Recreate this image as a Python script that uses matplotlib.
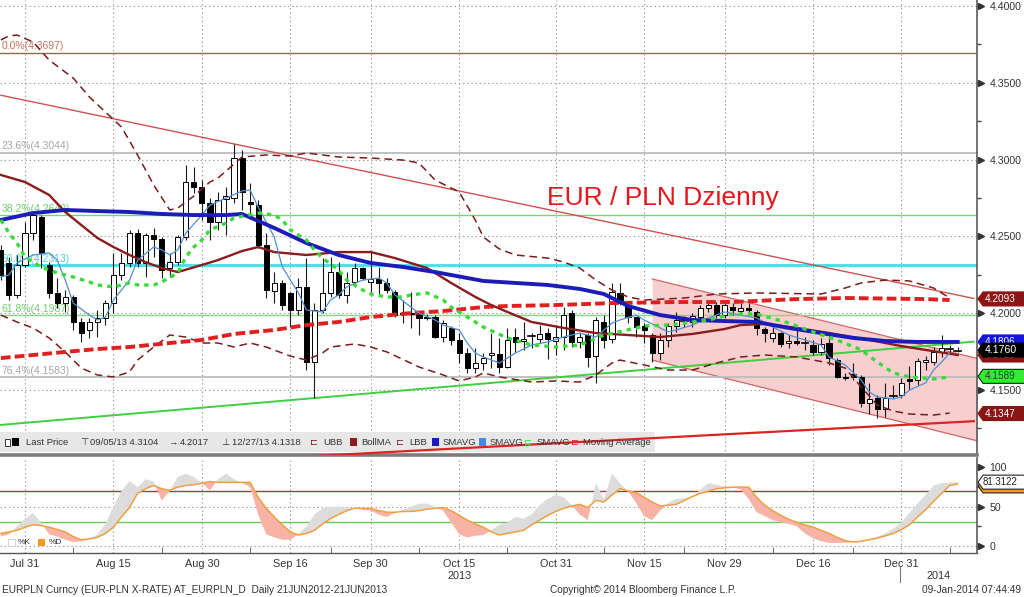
import numpy as np
import matplotlib
matplotlib.use("Agg")
import matplotlib.pyplot as plt
from matplotlib.patches import Rectangle, Polygon
from matplotlib.transforms import IdentityTransform, blended_transform_factory, offset_copy

plt.rcParams['font.family'] = ['Liberation Sans', 'DejaVu Sans']
plt.rcParams['lines.scale_dashes'] = False

# ---------------- data (trading-day index, Jul 31 2013 = 0) ----------------
day = np.arange(-3, 117)
open_ = [4.2412, 4.2327, 4.2119, 4.2314, 4.2522, 4.2626, 4.2314, 4.2132, 4.2066, 4.2106,
         4.1943, 4.1891, 4.1943, 4.1969, 4.2066, 4.2249, 4.2327, 4.2522, 4.2327, 4.2509,
         4.2483, 4.2294, 4.2333, 4.2496, 4.2854, 4.2822, 4.2718, 4.2594, 4.2744, 4.2750,
         4.3011, 4.2724, 4.2704, 4.2444, 4.2145, 4.2197, 4.2132, 4.2021, 4.2171, 4.1682,
         4.2021, 4.2132, 4.2268, 4.2119, 4.2203, 4.2294, 4.2203, 4.2223, 4.2197, 4.2138,
         4.1995, 4.1995, 4.1995, 4.1975, 4.1975, 4.1845, 4.1904, 4.1826, 4.1741, 4.1643,
         4.1676, 4.1728, 4.1735, 4.1650, 4.1845, 4.1819, 4.1852, 4.1832, 4.1871, 4.1819,
         4.1845, 4.2001, 4.1813, 4.1858, 4.1721, 4.1943, 4.1832, 4.2132, 4.2053, 4.1975,
         4.1917, 4.1858, 4.1741, 4.1826, 4.1917, 4.1949, 4.1943, 4.1975, 4.2034, 4.2053,
         4.1988, 4.2040, 4.2014, 4.2034, 4.2008, 4.1897, 4.1839, 4.1871, 4.1806, 4.1819,
         4.1806, 4.1793, 4.1748, 4.1806, 4.1695, 4.1585, 4.1604, 4.1585, 4.1415, 4.1448,
         4.1376, 4.1461, 4.1468, 4.1572, 4.1565, 4.1682, 4.1682, 4.1748, 4.1770, 4.1757]
high = [4.2444, 4.2366, 4.2379, 4.2594, 4.2659, 4.2639, 4.2333, 4.2229, 4.2151, 4.2119,
        4.1969, 4.1969, 4.2021, 4.2086, 4.2392, 4.2392, 4.2542, 4.2548, 4.2522, 4.2555,
        4.2496, 4.2392, 4.2509, 4.2965, 4.2952, 4.2867, 4.2750, 4.2789, 4.2822, 4.3104,
        4.3063, 4.2848, 4.2737, 4.2522, 4.2268, 4.2216, 4.2138, 4.2229, 4.2359, 4.2066,
        4.2359, 4.2366, 4.2333, 4.2268, 4.2327, 4.2301, 4.2398, 4.2301, 4.2229, 4.2151,
        4.2086, 4.2138, 4.2001, 4.1995, 4.1988, 4.1956, 4.1917, 4.1871, 4.1774, 4.1774,
        4.1741, 4.1871, 4.1839, 4.1904, 4.1904, 4.1943, 4.1871, 4.1923, 4.1904, 4.1923,
        4.2040, 4.2021, 4.1871, 4.1871, 4.1975, 4.1988, 4.2197, 4.2197, 4.2073, 4.1975,
        4.1936, 4.1871, 4.1871, 4.1936, 4.2008, 4.1982, 4.2001, 4.2053, 4.2073, 4.2073,
        4.2073, 4.2066, 4.2066, 4.2066, 4.2021, 4.1910, 4.1910, 4.1878, 4.1858, 4.1891,
        4.1845, 4.1826, 4.1839, 4.1871, 4.1708, 4.1611, 4.1676, 4.1598, 4.1546, 4.1468,
        4.1546, 4.1533, 4.1578, 4.1656, 4.1708, 4.1721, 4.1780, 4.1858, 4.1793, 4.1780]
low = [4.2216, 4.2086, 4.2099, 4.2301, 4.2477, 4.2294, 4.2099, 4.2034, 4.2008, 4.1891,
       4.1813, 4.1839, 4.1845, 4.1923, 4.2001, 4.2216, 4.2301, 4.2301, 4.2236, 4.2366,
       4.2229, 4.2236, 4.2314, 4.2477, 4.2783, 4.2607, 4.2477, 4.2542, 4.2509, 4.2718,
       4.2672, 4.2620, 4.2425, 4.2099, 4.2066, 4.2021, 4.1910, 4.1988, 4.1630, 4.1448,
       4.2001, 4.2106, 4.2099, 4.2066, 4.2171, 4.2216, 4.2138, 4.2119, 4.2132, 4.1975,
       4.1936, 4.1904, 4.1858, 4.1956, 4.1839, 4.1813, 4.1793, 4.1676, 4.1611, 4.1611,
       4.1630, 4.1643, 4.1611, 4.1643, 4.1748, 4.1761, 4.1774, 4.1806, 4.1702, 4.1728,
       4.1761, 4.1780, 4.1774, 4.1650, 4.1546, 4.1774, 4.1806, 4.2053, 4.1936, 4.1845,
       4.1806, 4.1682, 4.1695, 4.1780, 4.1878, 4.1910, 4.1910, 4.1943, 4.2008, 4.1969,
       4.1969, 4.1988, 4.2001, 4.2008, 4.1858, 4.1813, 4.1813, 4.1780, 4.1774, 4.1793,
       4.1761, 4.1728, 4.1728, 4.1663, 4.1578, 4.1565, 4.1565, 4.1389, 4.1344, 4.1318,
       4.1324, 4.1448, 4.1448, 4.1500, 4.1533, 4.1630, 4.1663, 4.1715, 4.1741, 4.1748]
close = [4.2249, 4.2119, 4.2314, 4.2522, 4.2639, 4.2392, 4.2132, 4.2066, 4.2106, 4.1943,
         4.1871, 4.1943, 4.1969, 4.2066, 4.2249, 4.2327, 4.2522, 4.2327, 4.2509, 4.2483,
         4.2281, 4.2333, 4.2496, 4.2854, 4.2822, 4.2718, 4.2594, 4.2737, 4.2763, 4.3011,
         4.2789, 4.2711, 4.2444, 4.2151, 4.2197, 4.2053, 4.2021, 4.2171, 4.1682, 4.2021,
         4.2132, 4.2268, 4.2119, 4.2197, 4.2294, 4.2229, 4.2223, 4.2197, 4.2151, 4.1988,
         4.2001, 4.2001, 4.1969, 4.1969, 4.1845, 4.1936, 4.1826, 4.1741, 4.1643, 4.1676,
         4.1708, 4.1741, 4.1650, 4.1826, 4.1813, 4.1832, 4.1848, 4.1865, 4.1832, 4.1845,
         4.1988, 4.1813, 4.1845, 4.1715, 4.1956, 4.1826, 4.2138, 4.2066, 4.1975, 4.1910,
         4.1891, 4.1741, 4.1826, 4.1917, 4.1956, 4.1953, 4.1982, 4.2034, 4.2053, 4.1988,
         4.2053, 4.2021, 4.2034, 4.2021, 4.1904, 4.1871, 4.1871, 4.1800, 4.1819, 4.1806,
         4.1803, 4.1748, 4.1800, 4.1708, 4.1585, 4.1578, 4.1585, 4.1415, 4.1442, 4.1376,
         4.1448, 4.1465, 4.1546, 4.1559, 4.1689, 4.1695, 4.1748, 4.1774, 4.1767, 4.1760]

# SMAVG (thick blue)
sma_blue_x = [-3, 1, 5, 9, 13, 17, 21, 25, 27, 31, 35, 39, 43, 47, 51, 57, 61, 65, 69, 72,
              75, 79, 83, 87, 91, 95, 99, 103, 107, 111, 116]
sma_blue = [4.2607, 4.2652, 4.2672, 4.2665, 4.2659, 4.2646, 4.2639, 4.2639, 4.2646, 4.2555,
            4.2457, 4.2379, 4.2327, 4.2301, 4.2268, 4.2210, 4.2197, 4.2184, 4.2158, 4.2125,
            4.2047, 4.1988, 4.1956, 4.1949, 4.1943, 4.1904, 4.1871, 4.1839, 4.1819, 4.1813, 4.1813]
# Bollinger middle
boll_x = [-3, 0, 3, 5, 7, 9, 11, 13, 15, 17, 19, 22, 24, 27, 29, 31, 35, 39, 43, 46, 50, 53,
          56, 58, 60, 63, 67, 71, 75, 79, 83, 87, 89, 92, 96, 100, 105, 109, 112, 116]
boll_ma = [4.2900, 4.2854, 4.2770, 4.2659, 4.2574, 4.2490, 4.2431, 4.2379, 4.2333, 4.2294,
           4.2268, 4.2314, 4.2346, 4.2405, 4.2431, 4.2398, 4.2379, 4.2398, 4.2398, 4.2359,
           4.2294, 4.2197, 4.2106, 4.2053, 4.2008, 4.1943, 4.1904, 4.1871, 4.1858, 4.1845,
           4.1865, 4.1897, 4.1923, 4.1930, 4.1904, 4.1871, 4.1826, 4.1786, 4.1761, 4.1728]
# upper Bollinger band
ubb_x = [-3, -2, -1, 1, 3, 6, 8, 10, 12, 14, 16, 18, 19, 21, 23, 24, 27, 30, 33, 35, 39, 43,
         47, 49, 51, 54, 56, 57, 59, 61, 65, 67, 69, 71, 73, 75, 77, 82, 86, 91, 99, 102, 104,
         107, 110, 113, 115]
ubb = [4.3779, 4.3805, 4.3811, 4.3766, 4.3648, 4.3531, 4.3408, 4.3310, 4.3212, 4.3030,
       4.2835, 4.2672, 4.2685, 4.2763, 4.2854, 4.2880, 4.3017, 4.3030, 4.3023, 4.3043,
       4.3017, 4.3010, 4.2997, 4.2978, 4.2867, 4.2789, 4.2607, 4.2496, 4.2418, 4.2379,
       4.2359, 4.2333, 4.2294, 4.2216, 4.2151, 4.2106, 4.2086, 4.2099, 4.2125, 4.2132,
       4.2125, 4.2164, 4.2197, 4.2216, 4.2210, 4.2164, 4.2099]
# lower Bollinger band
lbb_x = [-3, -1, 1, 3, 5, 7, 9, 11, 13, 14, 16, 18, 20, 22, 24, 26, 28, 30, 33, 35, 37, 38,
         41, 43, 45, 49, 52, 54, 56, 57, 59, 63, 66, 69, 71, 73, 74, 77, 80, 83, 86, 89, 92,
         96, 100, 102, 104, 106, 108, 110, 113, 115]
lbb = [4.1988, 4.1943, 4.1904, 4.1839, 4.1748, 4.1643, 4.1598, 4.1585, 4.1617, 4.1695,
       4.1780, 4.1858, 4.1845, 4.1806, 4.1806, 4.1780, 4.1806, 4.1780, 4.1721, 4.1695,
       4.1741, 4.1780, 4.1800, 4.1780, 4.1748, 4.1650, 4.1598, 4.1559, 4.1585, 4.1611,
       4.1585, 4.1552, 4.1559, 4.1552, 4.1598, 4.1676, 4.1695, 4.1663, 4.1630, 4.1630,
       4.1676, 4.1715, 4.1728, 4.1715, 4.1676, 4.1643, 4.1520, 4.1402, 4.1363, 4.1344,
       4.1337, 4.1350]
# short SMAVG (thin light blue)
sma_fast_x = [-3, -2, -1, 1, 3, 4, 5, 6, 8, 9, 10, 11, 13, 14, 16, 17, 18, 19, 20, 22, 23,
              25, 27, 28, 29, 31, 32, 34, 35, 37, 38, 39, 40, 42, 44, 45, 46, 48, 49, 51,
              52, 54, 55, 56, 57, 59, 61, 63, 65, 67, 69, 71, 73, 74, 76, 77, 79, 80, 81,
              83, 85, 87, 89, 91, 93, 95, 97, 99, 100, 102, 104, 105, 106, 108, 109, 110,
              112, 113, 114, 115]
sma_fast = [4.2236, 4.2249, 4.2327, 4.2379, 4.2392, 4.2346, 4.2216, 4.2066, 4.1988, 4.1956,
            4.1975, 4.2086, 4.2216, 4.2346, 4.2431, 4.2412, 4.2379, 4.2412, 4.2522, 4.2639,
            4.2704, 4.2750, 4.2796, 4.2802, 4.2691, 4.2496, 4.2301, 4.2132, 4.2021, 4.2008,
            4.2086, 4.2119, 4.2171, 4.2216, 4.2229, 4.2197, 4.2119, 4.2040, 4.2001, 4.1956,
            4.1923, 4.1891, 4.1806, 4.1741, 4.1715, 4.1676, 4.1741, 4.1793, 4.1813, 4.1845,
            4.1871, 4.1845, 4.1936, 4.1956, 4.1988, 4.1956, 4.1904, 4.1878, 4.1891, 4.1923,
            4.1969, 4.2008, 4.1988, 4.1969, 4.1910, 4.1858, 4.1826, 4.1793, 4.1715, 4.1663,
            4.1565, 4.1487, 4.1455, 4.1442, 4.1455, 4.1500, 4.1546, 4.1630, 4.1682, 4.1741]
# SMAVG (green dashed)
sma_green_x = [-3, -2, -1, 0, 1, 2, 4, 6, 8, 9, 11, 13, 14, 16, 17, 19, 20, 21, 22, 23, 25,
               26, 29, 31, 32, 33, 35, 36, 37, 39, 40, 42, 43, 45, 47, 48, 50, 52, 53, 55,
               57, 60, 63, 66, 69, 72, 76, 77, 80, 82, 85, 88, 91, 95, 98, 101, 104, 106,
               108, 110, 113, 115]
sma_green = [4.2607, 4.2522, 4.2457, 4.2366, 4.2333, 4.2301, 4.2262, 4.2236, 4.2203, 4.2184,
             4.2171, 4.2197, 4.2184, 4.2184, 4.2203, 4.2262, 4.2366, 4.2431, 4.2477, 4.2542,
             4.2587, 4.2620, 4.2652, 4.2639, 4.2607, 4.2542, 4.2477, 4.2412, 4.2359, 4.2281,
             4.2216, 4.2151, 4.2125, 4.2106, 4.2106, 4.2119, 4.2132, 4.2086, 4.2040, 4.1975,
             4.1910, 4.1839, 4.1793, 4.1780, 4.1793, 4.1858, 4.1904, 4.1917, 4.1923, 4.1936,
             4.1956, 4.1995, 4.1995, 4.1936, 4.1878, 4.1826, 4.1761, 4.1682, 4.1611, 4.1585,
             4.1572, 4.1585]
# Moving Average (thick red dashed)
ma_red_x = [-3, 1, 5, 9, 13, 18, 22, 26, 31, 35, 39, 43, 48, 52, 57, 60, 66, 73, 81, 88, 96,
            102, 112, 115]
ma_red = [4.1708, 4.1728, 4.1748, 4.1767, 4.1780, 4.1806, 4.1826, 4.1865, 4.1891, 4.1923,
          4.1943, 4.1975, 4.2001, 4.2014, 4.2040, 4.2047, 4.2053, 4.2066, 4.2073, 4.2073,
          4.2092, 4.2099, 4.2092, 4.2086]

# Fibonacci retracement levels
fib_pct = ['0.0%', '23.6%', '38.2%', '50.0%', '61.8%', '76.4%']
fib_val = [4.3697, 4.3044, 4.2640, 4.2313, 4.1987, 4.1583]

# trend lines (two end points each)
trend_down_x, trend_down_y = [-3, 118], [4.3419, 4.2096]
trend_up_x, trend_up_y = [-3, 118], [4.1273, 4.1815]
trend_low_x, trend_low_y = [30, 118], [4.1054, 4.1297]
chan_x = [78, 119]
chan_top = [4.2223, 4.1698]
chan_bot = [4.1695, 4.1162]

# stochastics
stoch_k = [12, 15, 25, 35, 42, 30, 15, 12, 8, 5, 6, 9, 15, 28, 50, 70, 83, 75, 85, 82,
           58, 70, 88, 92, 88, 80, 71, 85, 92, 85, 80, 75, 40, 15, 11, 8, 8, 15, 25, 40,
           48, 50, 50, 49, 48, 46, 45, 40, 37, 42, 46, 50, 54, 54, 50, 45, 30, 15, 11, 13,
           14, 20, 27, 30, 37, 35, 40, 52, 60, 65, 62, 52, 40, 33, 80, 60, 92, 80, 70, 55,
           38, 33, 45, 55, 60, 61, 62, 72, 80, 78, 76, 75, 72, 60, 43, 38, 33, 30, 28, 25,
           16, 10, 6, 4, 4, 4, 5, 7, 9, 12, 16, 22, 30, 42, 54, 65, 77, 80, 81, 81.3122]
stoch_d = [16, 18, 20, 24, 27, 26, 24, 21, 18, 12, 8, 9, 11, 16, 24, 37, 49, 67, 73, 77,
           73, 71, 75, 77, 78, 80, 82, 81, 81, 81, 81, 81, 62, 48, 37, 27, 18, 14, 16, 20,
           28, 35, 40, 45, 48, 48, 48, 45, 43, 43, 44, 44, 45, 47, 48, 49, 45, 39, 33, 28,
           24, 18, 14, 16, 18, 20, 27, 33, 39, 44, 48, 51, 53, 49, 58, 56, 65, 73, 70, 68,
           62, 56, 51, 52, 53, 58, 63, 67, 70, 73, 74, 75, 75, 75, 62, 52, 45, 39, 34, 30,
           27, 24, 20, 16, 11, 7, 5, 6, 8, 10, 13, 16, 21, 27, 37, 46, 57, 67, 77, 79]

tick_days = [0, 11, 22, 33, 43, 54, 66, 77, 87, 98, 109]
tick_labels = ['Jul 31', 'Aug 15', 'Aug 30', 'Sep 16', 'Sep 30', 'Oct 15', 'Oct 31',
               'Nov 15', 'Nov 29', 'Dec 16', 'Dec 31']
minor_days = [6, 17, 28, 38, 49, 60, 72, 82, 93, 103, 115]
price_ticks = [4.15, 4.20, 4.25, 4.30, 4.35, 4.40]

# ---------------- figure ----------------
W, H = 1024, 597
fig = plt.figure(figsize=(W / 100, H / 100), dpi=100)
fig.patch.set_facecolor('white')


def fx(px):
    return px / W


def fy(py):
    return 1 - py / H


ax = fig.add_axes([0, fy(455), fx(977), 455 / H])
ax2 = fig.add_axes([0, fy(553), fx(977), (553 - 457.5) / H])
XMIN, XMAX = -3.11, 118.4
ax.set_xlim(XMIN, XMAX)
ax.set_ylim(4.1077, 4.4039)
ax2.set_xlim(XMIN, XMAX)
ax2.set_ylim(-8.9, 112.7)

grid_kw = dict(color='#9a9a9a', lw=0.8, linestyle=(0, (1, 2)), zorder=0.5)
for d in tick_days:
    ax.axvline(d, **grid_kw)
    ax2.axvline(d, **grid_kw)
for p in price_ticks:
    ax.axhline(p, **grid_kw)
for v in [0, 50]:
    ax2.axhline(v, **grid_kw)

# pink channel
ax.fill_between(chan_x, chan_bot, chan_top, color='#f8cfcf', lw=0, zorder=1)
ax.plot(chan_x, chan_top, color='#d46464', lw=0.9, zorder=1.2)
ax.plot(chan_x, chan_bot, color='#d46464', lw=0.9, zorder=1.2)

# fibonacci levels
fib_col = ['#d44848', '#bcbcbc', '#72d872', '#3ee0e6', '#80dc80', '#bcbcbc']
fib_txt = ['#c8705c', '#a6a6a6', '#6cd06c', '#48d4d8', '#6cd06c', '#a6a6a6']
fib_lw = [1.0, 1.3, 1.0, 2.0, 1.0, 1.3]
for pct, val, c, tc, lw in zip(fib_pct, fib_val, fib_col, fib_txt, fib_lw):
    ax.axhline(val, color=c, lw=lw, zorder=1.3)
    ax.text(XMIN + 0.2, val + 0.0009, f'{pct}({val:.4f})', color=tc, fontsize=7.5,
            va='bottom', ha='left', zorder=1.4)

# trend lines
ax.plot(trend_down_x, trend_down_y, color='#d05050', lw=1.0, zorder=1.5)
ax.plot(trend_up_x, trend_up_y, color='#3fcf3f', lw=1.4, zorder=1.5)

# candles
for d, o, h, l, c in zip(day, open_, high, low, close):
    ax.plot([d, d], [l, h], color='#1a1a1a', lw=0.8, zorder=3, solid_capstyle='butt')
    lo, hi = min(o, c), max(o, c)
    if hi - lo < 0.0004:
        ax.plot([d - 0.4, d + 0.4], [o, o], color='black', lw=1.2, zorder=4)
    else:
        ax.add_patch(Rectangle((d - 0.32, lo), 0.64, hi - lo,
                               facecolor='white' if c >= o else 'black',
                               edgecolor='black', lw=0.7, zorder=4))

# indicators
ax.plot(ubb_x, ubb, color='#7a1c1c', lw=1.1, dashes=(5.5, 3.5), zorder=5)
ax.plot(lbb_x, lbb, color='#7a1c1c', lw=1.1, dashes=(5.5, 3.5), zorder=5)
ax.plot(ma_red_x, ma_red, color='#e02020', lw=2.8, dashes=(7, 3), zorder=5)
ax.plot(boll_x, boll_ma, color='#8b1c1c', lw=1.7, zorder=5.5)
ax.plot(sma_fast_x, sma_fast, color='#4f8fd0', lw=0.9, zorder=5.6)
ax.plot(sma_blue_x, sma_blue, color='#1c1cb8', lw=2.8, zorder=6)
ax.plot(sma_green_x, sma_green, color='#3ada3a', lw=2.4, dashes=(3.2, 3.6), zorder=6.2)

# legend bar (inside main axes)
ax.add_patch(Rectangle((0, fy(452)), fx(655), 20 / H, transform=fig.transFigure,
                       facecolor='#e7e7e7', edgecolor='none', zorder=6.5))
ax.plot(trend_low_x, trend_low_y, color='#dd2424', lw=1.6, zorder=7)

leg_y = fy(442.5)
tf = fig.transFigure
ax.add_patch(Rectangle((fx(5), fy(446)), fx(5), 7 / H, transform=tf, facecolor='white',
                       edgecolor='#333333', lw=0.7, zorder=8))
ax.add_patch(Rectangle((fx(12), fy(446)), fx(7), 8 / H, transform=tf, facecolor='black',
                       edgecolor='none', zorder=8))
legend_items = [
    (26, 'Last Price', '#333333'), (80, '\u22a4', '#333333'), (90, '09/05/13 4.3104', '#333333'),
    (169, '\u2192', '#333333'), (180, '4.2017', '#333333'), (221, '\u22a5', '#333333'),
    (232, '12/27/13 4.1318', '#333333'), (310, '\u228f', '#7a1c1c'), (323, 'UBB', '#333333'),
    (361, 'BollMA', '#333333'), (396, '\u228f', '#7a1c1c'), (409, 'LBB', '#333333'),
    (443, 'SMAVG', '#333333'), (490, 'SMAVG', '#333333'), (524, '\u228f', '#3ada3a'),
    (537, 'SMAVG', '#333333'), (571, '\u228f', '#e02020'), (583, 'Moving Average', '#333333')]
for px, txt, col in legend_items:
    ax.text(fx(px), leg_y, txt, transform=tf, fontsize=6.8, color=col, va='center',
            ha='left', zorder=8)
for px, col in [(350, '#8b1c1c'), (432, '#1c1cb8'), (479, '#3c8ee8')]:
    ax.add_patch(Rectangle((fx(px), fy(446)), fx(7), 8 / H, transform=tf, facecolor=col,
                           edgecolor='none', zorder=8))

# title
fig.text(fx(547), fy(198), 'EUR / PLN Dzienny', color='#e8141c', fontsize=19,
         va='center', ha='left')

# stochastic panel
k = np.array(stoch_k, dtype=float)
dd = np.array(stoch_d, dtype=float)
ax2.axhline(70, color='#a8383a', lw=1.0, zorder=1.5)
ax2.axhline(30, color='#66cc55', lw=1.0, zorder=1.5)
ax2.fill_between(day, k, dd, where=k >= dd, interpolate=True, color='#dcdcdc', lw=0, zorder=2)
ax2.fill_between(day, k, dd, where=k < dd, interpolate=True, color='#f7b3a5', lw=0, zorder=2)
ax2.plot(day, dd, color='#eea040', lw=1.1, zorder=3)
ax2.add_patch(Rectangle((fx(8), fy(546)), fx(7), 7 / H, transform=tf, facecolor='white',
                        edgecolor='#cccccc', lw=0.6, zorder=4))
ax2.text(fx(18), fy(542.5), '%K', transform=tf, fontsize=6, color='#333333', va='center')
ax2.add_patch(Rectangle((fx(38), fy(546)), fx(7), 7 / H, transform=tf, facecolor='#f39a1e',
                        edgecolor='none', zorder=4))
ax2.text(fx(49), fy(542.5), '%D', transform=tf, fontsize=6, color='#333333', va='center')

# axes styling
for a in (ax, ax2):
    a.yaxis.tick_right()
    for s in ('left', 'top'):
        a.spines[s].set_visible(False)
    a.spines['right'].set_color('#5a5a5a')
    a.spines['right'].set_linewidth(1.2)
    a.set_facecolor('white')
ax.spines['bottom'].set_color('#7c7c7c')
ax.spines['bottom'].set_linewidth(2.6)
ax2.spines['bottom'].set_color('#555555')
ax2.spines['bottom'].set_linewidth(1.0)

ax.set_xticks([])
ax.set_yticks(price_ticks)
ax.set_yticklabels([f'{p:.4f}' for p in price_ticks])
ax.set_yticks([4.125, 4.175, 4.225, 4.275, 4.325, 4.375], minor=True)
ax2.set_yticks([0, 50, 100])
ax2.set_yticklabels(['0', '50', '100'])
ax2.set_yticks([25, 75], minor=True)
for a in (ax, ax2):
    a.tick_params(axis='y', which='major', direction='out', length=3, width=1,
                  color='#444444', pad=6, labelsize=7.6, labelcolor='#333333')
    a.tick_params(axis='y', which='minor', direction='out', length=3, width=1,
                  color='#444444')
ax.plot([1.0] * len(price_ticks), price_ticks, ls='none', marker='>', ms=4.5,
        color='#333333', clip_on=False, zorder=10,
        transform=offset_copy(blended_transform_factory(ax.transAxes, ax.transData),
                              fig=fig, x=4, y=0, units='dots'))
ax2.plot([1.0] * 3, [0, 50, 100], ls='none', marker='>', ms=4.5, color='#333333',
         clip_on=False, zorder=10,
         transform=offset_copy(blended_transform_factory(ax2.transAxes, ax2.transData),
                               fig=fig, x=4, y=0, units='dots'))

ax2.set_xticks(tick_days)
ax2.set_xticklabels(tick_labels)
ax2.set_xticks(minor_days, minor=True)
ax2.tick_params(axis='x', which='major', length=0, pad=4, labelsize=7.8,
                labelcolor='#333333')
ax2.tick_params(axis='x', which='minor', direction='in', length=4, color='#555555')

btr = blended_transform_factory(ax2.transData, fig.transFigure)
fig.text(54, fy(576), '2013', transform=btr, fontsize=7.8, color='#333333',
         ha='center', va='center')
fig.text(113.6, fy(576), '2014', transform=btr, fontsize=7.8, color='#333333',
         ha='center', va='center')
fig.add_artist(plt.Line2D([108.8, 108.8], [fy(567), fy(582)], transform=btr,
                          color='#777777', lw=0.8))

# footer
fig.text(fx(2), fy(590), 'EURPLN Curncy (EUR-PLN X-RATE) AT_EURPLN_D  Daily 21JUN2012-21JUN2013',
         fontsize=7.3, color='#333333', va='center', ha='left')
fig.text(fx(550), fy(590), 'Copyright\u00a9 2014 Bloomberg Finance L.P.', fontsize=7.3,
         color='#333333', va='center', ha='left')
fig.text(fx(1021), fy(590), '09-Jan-2014 07:44:49', fontsize=7.3, color='#333333',
         va='center', ha='right')


# price tags on the right
def tag(a, val, text, fc, tc, ec=None, z=20, h=14, tx=985, fs=7.2):
    yc = a.transData.transform((0, val))[1]
    x0, x1 = 978, 1025
    pts = [(x0, yc), (x0 + 5, yc + h / 2), (x1, yc + h / 2), (x1, yc - h / 2),
           (x0 + 5, yc - h / 2)]
    fig.add_artist(Polygon(pts, closed=True, transform=IdentityTransform(), facecolor=fc,
                           edgecolor=ec or fc, lw=0.8, zorder=z))
    if text:
        fig.text(tx / W, yc / H, text, color=tc, fontsize=fs, va='center', ha='left',
                 zorder=z + 0.5)


tag(ax, 4.2093, '4.2093', '#8b1414', 'white', z=20)
tag(ax, 4.1813, '4.1806', '#1414e0', 'white', z=21)
tag(ax, 4.1728, '4.1726', '#8b1414', 'white', z=22)
tag(ax, 4.1760, '4.1760', 'black', 'white', z=23, fs=7.6)
tag(ax, 4.1589, '4.1589', '#2ff02f', '#2a3a2a', ec='#1a1a1a', z=24)
tag(ax, 4.1347, '4.1347', '#8b1414', 'white', z=25)
tag(ax2, 76.5, '', '#f39a1e', 'white', ec='#222222', z=26)
tag(ax2, 81.3122, '81.3122', 'white', '#222222', ec='#222222', z=27, tx=983, fs=7.0)

fig.savefig('out.png', dpi=100, facecolor='white')
